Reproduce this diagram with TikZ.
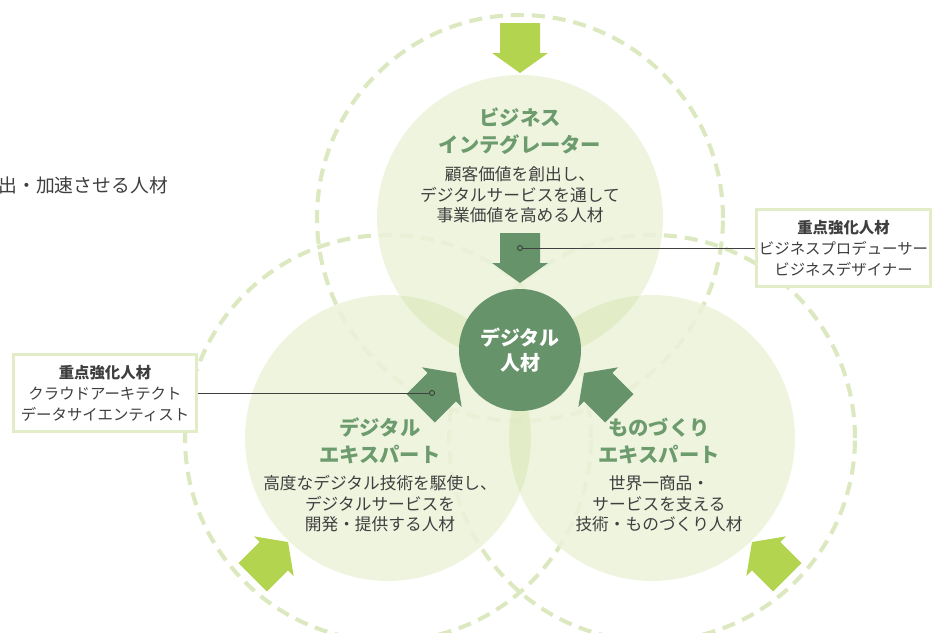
\documentclass[tikz,border=0pt]{standalone}
\usepackage{fontspec}
\setmainfont{Noto Sans CJK JP}
\usepackage{tikz}
\definecolor{leaf}{HTML}{EFF4DF}
\definecolor{leafmix}{HTML}{E2EDC8}
\definecolor{rim}{HTML}{DCE9C0}
\definecolor{lite}{HTML}{B3D44F}
\definecolor{deep}{HTML}{66936A}
\definecolor{ink}{HTML}{3F3F3F}
\definecolor{titlegreen}{HTML}{6C9B6D}

\begin{document}
\begin{tikzpicture}[x=1pt,y=-1pt,
  ring/.style={rim,line width=4pt,dash pattern=on 13pt off 8pt},
  ttl/.style={font=\bfseries\fontsize{20.3}{27}\selectfont,text=titlegreen,align=center,inner sep=0pt},
  txt/.style={font=\fontsize{16.7}{20.5}\selectfont,text=ink,align=center,inner sep=0pt},
  core/.style={circle,fill=deep,minimum size=122pt,inner sep=0pt,text=white,align=center,font=\bfseries\fontsize{20}{25}\selectfont},
  note/.style={draw=leafmix,line width=3pt,fill=white,minimum height=77pt,inner sep=0pt,align=center,text=ink,font=\fontsize{15.4}{21}\selectfont},
  lead/.style={draw=black!75,line width=0.8pt},
  pin/.style={circle,draw=black!80,fill=deep,line width=0.8pt,minimum size=5pt,inner sep=0pt}]
\useasboundingbox (0,0) rectangle (934,632);
\coordinate (ct) at (520,218);
\coordinate (cl) at (388,438);
\coordinate (cr) at (652,438);
\foreach \c in {ct,cl,cr} \draw[ring] (\c) circle[radius=203pt];
\foreach \c in {ct,cl,cr} \fill[leaf] (\c) circle[radius=143pt];
\begin{scope}
\clip (ct) circle[radius=143pt];
\fill[leafmix] (cl) circle[radius=143pt] (cr) circle[radius=143pt];
\end{scope}
\begin{scope}
\clip (cl) circle[radius=143pt];
\fill[leafmix] (cr) circle[radius=143pt];
\end{scope}
\foreach \c in {ct,cl,cr} \draw[ring,opacity=.3] (\c) circle[radius=203pt];
\foreach \x/\y/\a/\c in {520/73/-90/lite,288/542/45/lite,752/542/135/lite,520/283/-90/deep,456/373/45/deep,584/373/135/deep}
  \fill[\c,shift={(\x,\y)},rotate=\a] (0,0) -- (-20,28) -- (-20,20) -- (-50,20) -- (-50,-20) -- (-20,-20) -- (-20,-28) -- cycle;
\node[core] (talent) at (520,350) {デジタル\\人材};
\node[ttl] (biz) at (520,131) {ビジネス\\インテグレーター};
\node[txt] (biztext) at (520,195) {顧客価値を創出し、\\デジタルサービスを通して\\事業価値を高める人材};
\node[ttl] (dx) at (380,441) {デジタル\\エキスパート};
\node[txt] (dxtext) at (380,504) {高度なデジタル技術を駆使し、\\デジタルサービスを\\開発・提供する人材};
\node[ttl] (mono) at (659,441) {ものづくり\\エキスパート};
\node[txt] (monotext) at (659,504) {世界一商品・\\サービスを支える\\技術・ものづくり人材};
\node[txt,font=\fontsize{18.8}{20}\selectfont,anchor=east] (slogan) at (168,185) {出・加速させる人材};
\node[note,minimum width=174pt] (bizbox) at (843.5,248) {\textbf{重点強化人材}\\ビジネスプロデューサー\\ビジネスデザイナー};
\node[note,minimum width=183pt] (dxbox) at (105,393) {\textbf{重点強化人材}\\クラウドアーキテクト\\データサイエンティスト};
\node[pin] (bizpin) at (520,248) {};
\node[pin] (dxpin) at (432,393) {};
\draw[lead] (bizbox.west) -- (bizpin);
\draw[lead] (dxbox.east) -- (dxpin);
\end{tikzpicture}
\end{document}
